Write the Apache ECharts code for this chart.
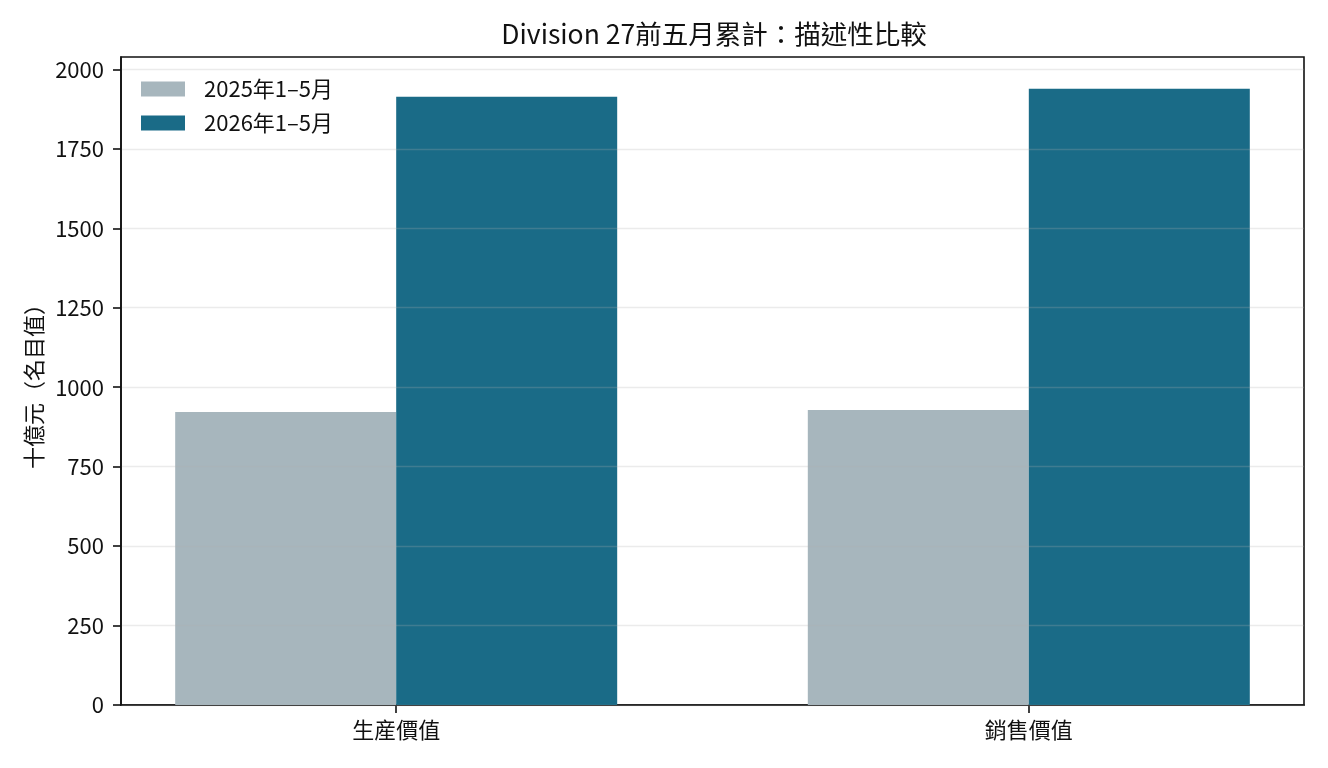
<!DOCTYPE html>
<html>
<head>
<meta charset="utf-8">
<script src="https://cdn.jsdelivr.net/npm/echarts@6/dist/echarts.min.js"></script>
<style>
  html, body { margin: 0; padding: 0; background: #fff; }
  #main { width: 1328px; height: 768px; }
</style>
</head>
<body>
<div id="main"></div>
<script>
// data
const categories = ["生産價值", "銷售價值"];
const seriesNames = ["2025年1–5月", "2026年1–5月"];
const values2025 = [922, 928];
const values2026 = [1914, 1939];
const yTicks = [0, 250, 500, 750, 1000, 1250, 1500, 1750, 2000];

const FONT = "'Noto Sans CJK TC', 'Noto Sans CJK SC', 'Noto Sans', sans-serif";
const colors = ["#a7b6bd", "#1a6b87"];

const chart = echarts.init(document.getElementById("main"));

const option = {
  animation: false,
  backgroundColor: "#fff",
  textStyle: { fontFamily: FONT },
  title: {
    text: "Division 27前五月累計：描述性比較",
    left: 714,
    textAlign: "center",
    top: 21,
    padding: 0,
    textStyle: { fontFamily: FONT, fontSize: 26.5, fontWeight: "normal", color: "#111" },
  },
  legend: {
    orient: "vertical",
    left: 141,
    top: 78,
    padding: 0,
    itemWidth: 44,
    itemHeight: 15,
    itemGap: 12,
    icon: "rect",
    data: seriesNames,
    textStyle: { fontFamily: FONT, fontSize: 22, color: "#111", lineHeight: 19, padding: [0, 0, 0, 14] },
  },
  grid: {
    left: 121,
    right: 24,
    top: 57,
    bottom: 63,
    show: true,
    borderColor: "#111",
    borderWidth: 1.6,
    backgroundColor: "transparent",
  },
  xAxis: {
    type: "value",
    min: -0.435,
    max: 1.435,
    splitLine: { show: false },
    axisLine: { show: true, onZero: false, lineStyle: { color: "#111", width: 1.6 } },
    axisTick: { show: true, length: 8, customValues: [0, 1], lineStyle: { color: "#111", width: 1.6 } },
    axisLabel: {
      customValues: [0, 1],
      formatter: (v) => categories[Math.round(v)],
      fontFamily: FONT,
      fontSize: 22,
      color: "#111",
      margin: 14,
    },
  },
  yAxis: {
    type: "value",
    min: 0,
    max: 2039,
    interval: 250,
    z: 3,
    name: "十億元（名目值）",
    nameLocation: "middle",
    nameGap: 72,
    nameTextStyle: { fontFamily: FONT, fontSize: 22, color: "#111" },
    axisLine: { show: true, onZero: false, lineStyle: { color: "#111", width: 1.6 } },
    axisTick: { show: true, length: 8, customValues: yTicks, lineStyle: { color: "#111", width: 1.6 } },
    axisLabel: {
      customValues: yTicks,
      formatter: (v) => String(v),
      fontFamily: FONT,
      fontSize: 22,
      color: "#111",
      margin: 17,
    },
    splitLine: { show: true, lineStyle: { color: "rgba(176,176,176,0.25)", width: 1.4 } },
  },
  series: [
    {
      name: seriesNames[0],
      type: "bar",
      data: values2025.map((v, i) => [i, v]),
      barWidth: 221,
      barGap: "0%",
      itemStyle: { color: colors[0] },
      z: 2,
    },
    {
      name: seriesNames[1],
      type: "bar",
      data: values2026.map((v, i) => [i, v]),
      barWidth: 221,
      barGap: "0%",
      itemStyle: { color: colors[1] },
      z: 2,
    },
  ],
};

chart.setOption(option);
window.onresize = () => {
  chart.resize();
};
</script>
</body>
</html>
